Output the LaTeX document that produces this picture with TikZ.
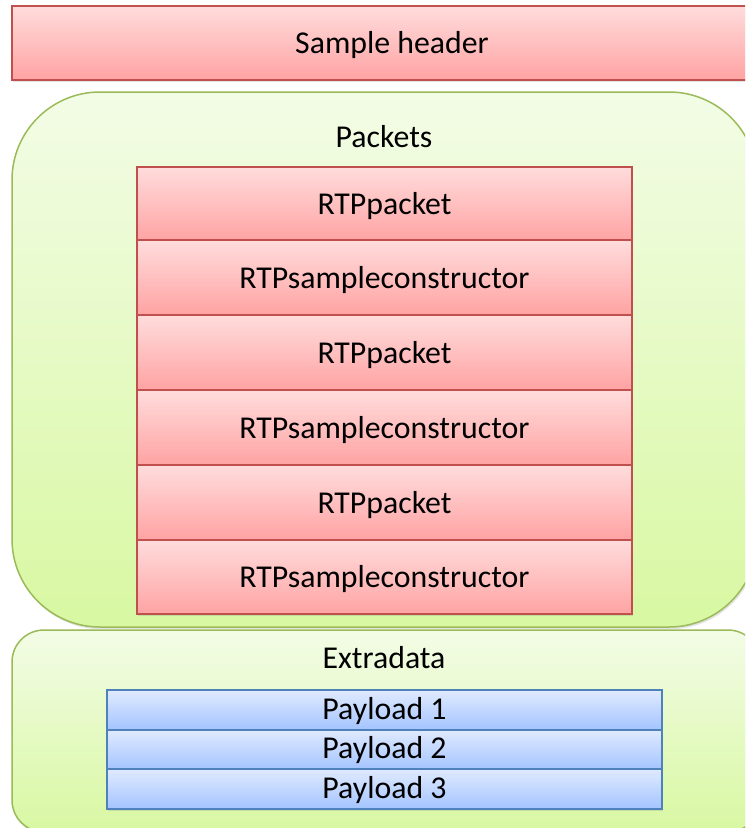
\documentclass[tikz,border=0pt]{standalone}
\usepackage{fontspec}
\setmainfont{Carlito}
\usetikzlibrary{shadows}
\definecolor{redTop}{RGB}{255,220,220}
\definecolor{redBot}{RGB}{255,163,163}
\definecolor{redLine}{RGB}{192,80,77}
\definecolor{grnTop}{RGB}{243,252,230}
\definecolor{grnBot}{RGB}{216,248,162}
\definecolor{grnLine}{RGB}{155,187,89}
\definecolor{bluTop}{RGB}{224,234,255}
\definecolor{bluBot}{RGB}{164,196,255}
\definecolor{bluLine}{RGB}{79,129,189}
\tikzset{
  soft shadow/.style={drop shadow={opacity=0.22, shadow xshift=1.2pt, shadow yshift=-2.2pt}},
  redrow/.style={rectangle, draw=redLine, line width=1.8pt, top color=redTop, bottom color=redBot,
                 minimum width=495pt, minimum height=74.5pt, inner sep=0pt, soft shadow},
  blurow/.style={rectangle, draw=bluLine, line width=1.8pt, top color=bluTop, bottom color=bluBot,
                 minimum width=555pt, minimum height=39.5pt, inner sep=0pt, soft shadow},
  grnbox/.style={rectangle, draw=grnLine, line width=1.5pt, top color=grnTop, bottom color=grnBot,
                 inner sep=0pt, soft shadow},
  lbl/.style={anchor=base, inner sep=0pt, font=\fontsize{31.8}{37}\selectfont, text=black},
}
\begin{document}
\begin{tikzpicture}[x=1pt, y=-1pt]
\clip (0,0) rectangle (745,828);
\fill[white] (0,0) rectangle (745,828);

% top header bar
\node[redrow, minimum width=760pt, minimum height=74pt] (hdr) at (392,43) {};
\node[lbl] (hdrT) at ([yshift=-10pt]hdr.center) {Sample header};

% packets container
\node[grnbox, rounded corners=88pt, minimum width=745pt, minimum height=535pt] (pk) at (384.5,359.5) {};
\node[lbl] (pkT) at (384,147) {Packets};

% packet stack
\node[redrow] (p1) at (384.5,204) {};
\node[redrow] (p2) at (384.5,277.5) {};
\node[redrow] (p3) at (384.5,352.5) {};
\node[redrow] (p4) at (384.5,427.5) {};
\node[redrow] (p5) at (384.5,502.5) {};
\node[redrow] (p6) at (384.5,577) {};
\node[lbl] at ([yshift=-10.5pt]p1.center) {RTPpacket};
\node[lbl] at ([yshift=-10.5pt]p2.center) {RTPsampleconstructor};
\node[lbl] at ([yshift=-10.5pt]p3.center) {RTPpacket};
\node[lbl] at ([yshift=-10.5pt]p4.center) {RTPsampleconstructor};
\node[lbl] at ([yshift=-10.5pt]p5.center) {RTPpacket};
\node[lbl] at ([yshift=-10.5pt]p6.center) {RTPsampleconstructor};

% extradata container
\node[grnbox, rounded corners=32pt, minimum width=748pt, minimum height=202pt] (ex) at (386,731) {};
\node[lbl] (exT) at (384,668) {Extradata};

% payload stack
\node[blurow] (b1) at (384.5,710) {};
\node[blurow] (b2) at (384.5,749.5) {};
\node[blurow] (b3) at (384.5,789) {};
\node[lbl] at ([yshift=-9pt]b1.center) {Payload 1};
\node[lbl] at ([yshift=-9pt]b2.center) {Payload 2};
\node[lbl] at ([yshift=-9pt]b3.center) {Payload 3};
\end{tikzpicture}
\end{document}
